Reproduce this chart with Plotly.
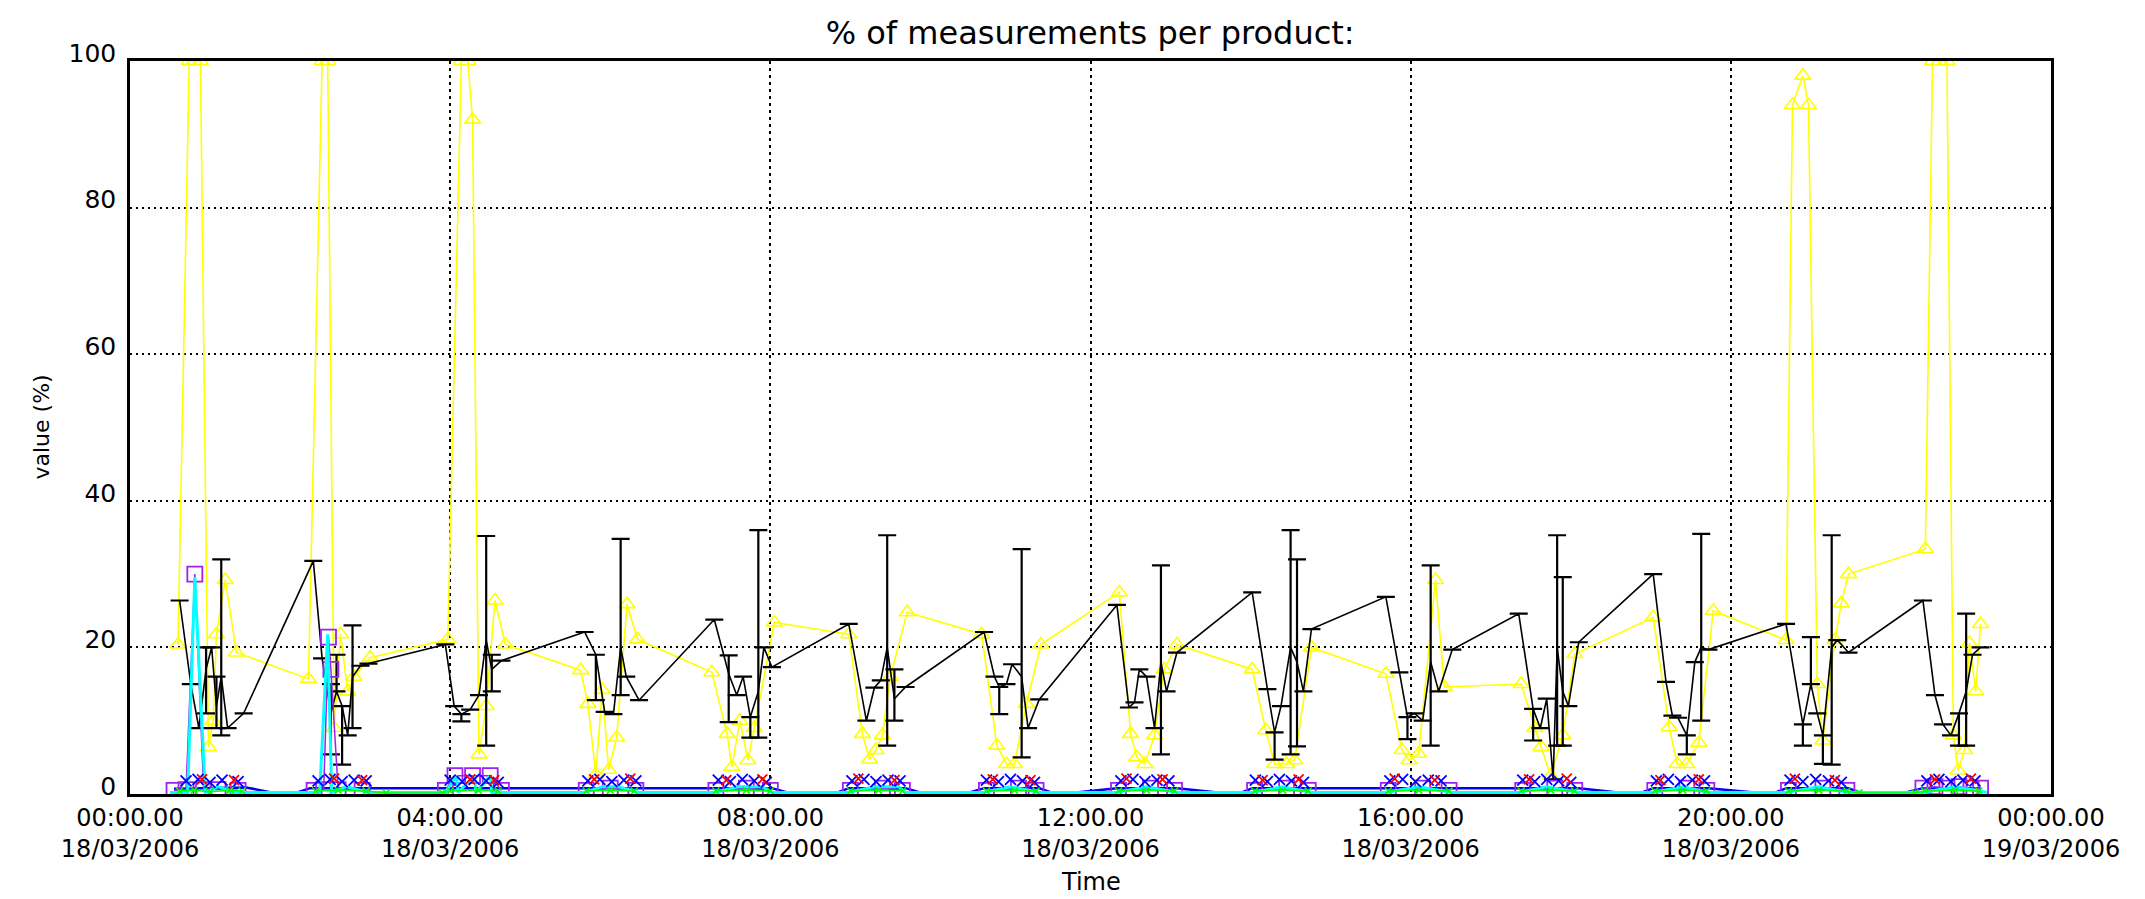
import pandas as pd
import plotly.graph_objects as go

BASE = pd.Timestamp("2006-03-18 00:00:00")

# ---- black series (mean with min/max bars) ----
black_h = [0.62, 0.76, 0.86, 0.95, 1.02, 1.08, 1.14, 1.22, 1.42,
           2.29, 2.40, 2.51, 2.58, 2.65, 2.72, 2.78, 2.88, 2.98,
           3.94, 4.05, 4.14, 4.25, 4.36, 4.45, 4.52, 4.64,
           5.68, 5.82, 5.93, 6.04, 6.13, 6.20, 6.36,
           7.30, 7.48, 7.58, 7.66, 7.75, 7.85, 7.92, 8.02,
           8.98, 9.20, 9.30, 9.38, 9.46, 9.55, 9.69,
           10.67, 10.80, 10.86, 10.95, 11.02, 11.14, 11.22, 11.36,
           12.33, 12.48, 12.55, 12.61, 12.70, 12.80, 12.88, 12.95, 13.08,
           14.02, 14.21, 14.30, 14.38, 14.50, 14.58, 14.66, 14.76,
           15.69, 15.86, 15.96, 16.05, 16.15, 16.25, 16.35, 16.52,
           17.35, 17.53, 17.62, 17.70, 17.78, 17.83, 17.90, 17.97, 18.10,
           19.03, 19.19, 19.27, 19.34, 19.45, 19.55, 19.63, 19.72,
           20.69, 20.90, 21.00, 21.08, 21.15, 21.26, 21.33, 21.47,
           22.40, 22.55, 22.65, 22.75, 22.85, 22.94, 23.02, 23.12]
black_v = [26.4, 15.0, 9.0, 17.0, 20.0, 12.0, 16.0, 9.0, 11.0,
           31.8, 18.5, 11.0, 14.0, 12.0, 8.0, 16.0, 17.5, 17.8,
           20.4, 12.0, 10.9, 11.5, 13.5, 21.0, 17.0, 18.2,
           22.1, 19.0, 11.2, 10.9, 20.0, 16.0, 12.8,
           23.8, 16.4, 13.5, 16.0, 10.5, 14.0, 20.0, 17.3,
           23.2, 10.0, 14.5, 15.5, 20.0, 13.0, 14.6,
           22.1, 16.0, 14.6, 15.0, 17.7, 16.0, 9.0, 12.9,
           25.8, 11.8, 12.5, 17.0, 16.0, 9.0, 18.0, 14.0, 19.3,
           27.5, 14.3, 8.4, 12.0, 20.0, 18.0, 14.0, 22.5,
           26.9, 16.6, 10.5, 11.0, 10.0, 18.0, 14.0, 19.7,
           24.6, 11.6, 9.0, 13.0, 2.0, 20.0, 14.0, 12.0, 20.7,
           30.0, 15.3, 10.7, 10.4, 8.0, 18.0, 20.0, 19.7,
           23.2, 9.5, 15.0, 11.0, 8.0, 20.0, 21.0, 19.3,
           26.4, 13.5, 9.5, 8.0, 11.0, 14.0, 19.0, 20.0]
black_up = [0, 0, 0, 3, 0, 4, 16, 0, 0,
            0, 0, 4, 5, 0, 0, 7, 0, 0,
            0, 0, 0, 0, 0, 14.2, 2, 0,
            0, 0, 0, 0, 14.8, 0, 0,
            0, 2.5, 0, 0, 0, 22, 0, 0,
            0, 0, 0, 0, 15.3, 4, 0,
            0, 0, 0, 0, 0, 17.4, 0, 0,
            0, 0, 0, 0, 0, 0, 13.2, 0, 0,
            0, 0, 0, 0, 16, 14, 0, 0,
            0, 0, 0, 0, 0, 13.2, 0, 0,
            0, 0, 0, 0, 0, 15.3, 15.6, 0, 0,
            0, 0, 0, 0, 0, 0, 15.5, 0,
            0, 0, 6.4, 0, 0, 15.3, 0, 0,
            0, 0, 0, 0, 0, 10.6, 0, 0]
black_down = [0, 0, 0, 6, 0, 3, 8, 0, 0,
              0, 0, 5.6, 0, 8, 0, 7, 0, 0,
              0, 0, 1, 0, 0, 14.4, 3, 0,
              0, 6.2, 0, 0, 6.5, 0, 0,
              0, 6.6, 0, 0, 2.8, 6.3, 0, 0,
              0, 0, 0, 0, 13.4, 3, 0,
              0, 0, 3.7, 0, 0, 11, 0, 0,
              0, 0, 0, 0, 0, 0, 12.6, 0, 0,
              0, 0, 3.7, 0, 14.6, 11.5, 0, 0,
              0, 0, 3, 0, 0, 11.4, 0, 0,
              0, 4.3, 0, 0, 0, 13.4, 7.4, 0, 0,
              0, 0, 0, 0, 2.6, 0, 10, 0,
              0, 2.9, 0, 0, 3.9, 16, 0, 0,
              0, 0, 0, 0, 4.4, 7.4, 0, 0]

# ---- yellow series (triangles) ----
yellow_h = [0.60, 0.74, 0.80, 0.88, 0.98, 1.04, 1.08, 1.19, 1.33,
            2.23, 2.40, 2.47, 2.55, 2.63, 2.72, 2.80, 3.00,
            3.97, 4.14, 4.22, 4.28, 4.36, 4.45, 4.56, 4.69,
            5.63, 5.72, 5.82, 5.90, 5.98, 6.08, 6.21, 6.34,
            7.27, 7.46, 7.52, 7.62, 7.72, 7.80, 8.05,
            8.98, 9.15, 9.24, 9.32, 9.40, 9.50, 9.71,
            10.64, 10.83, 10.95, 11.05, 11.20, 11.38,
            12.36, 12.50, 12.58, 12.68, 12.80, 12.92, 13.08,
            14.02, 14.19, 14.30, 14.45, 14.55, 14.76,
            15.69, 15.89, 15.98, 16.10, 16.31, 16.42,
            17.38, 17.55, 17.63, 17.75, 17.90, 18.05,
            19.03, 19.23, 19.33, 19.45, 19.60, 19.78,
            20.69, 20.77, 20.90, 20.97, 21.08, 21.15, 21.30, 21.38, 21.47,
            22.43, 22.52, 22.60, 22.70, 22.78, 22.84, 22.92, 22.98, 23.06, 23.12]
yellow_v = [20.4, 100, 100, 100, 6.4, 10, 21.8, 29.2, 19.3,
            15.7, 100, 100, 9.0, 21.8, 14.0, 16.0, 18.6,
            21.1, 100, 100, 92, 5.4, 12, 26.4, 20.4,
            16.9, 12.3, 2.7, 14.2, 3.3, 7.7, 25.9, 21.1,
            16.6, 8.2, 3.7, 10, 4.6, 9, 23.4,
            21.8, 8.2, 4.7, 6.0, 8.0, 16.0, 24.8,
            21.8, 6.6, 4.1, 4.1, 12.3, 20.4,
            27.5, 8.2, 5.0, 4.1, 8, 17, 20.4,
            17.0, 8.7, 4.1, 4.1, 4.6, 20.0,
            16.4, 6.0, 4.6, 5.5, 29.2, 14.6,
            15.0, 9.0, 6.4, 2.5, 8, 19.1,
            24.1, 9.1, 4.1, 4.1, 7, 25.0,
            21.0, 94, 98, 94, 15, 7.3, 21, 26, 30,
            33.4, 100, 100, 100, 8, 3.2, 6, 20.6, 14, 23.2]

# ---- blue series (line) ----
blue_h = [0.55, 1.45, 1.75, 2.10, 2.25, 2.98, 3.94, 4.64, 5.68, 6.36, 7.30, 8.02,
          8.20, 8.85, 8.98, 9.69, 9.86, 10.50, 10.67, 11.36, 11.50, 11.85, 12.33,
          13.08, 13.56, 13.90, 14.02, 14.76, 15.69, 16.52, 17.35, 18.10, 18.56,
          18.90, 19.03, 19.72, 20.26, 20.57, 20.69, 21.47, 21.60, 22.20, 22.40, 23.12]
blue_v = [0.7, 0.9, 0.25, 0.25, 0.8, 0.8, 0.8, 0.8, 0.8, 0.8, 0.8, 0.8,
          0.25, 0.25, 0.8, 0.8, 0.25, 0.25, 0.8, 0.8, 0.25, 0.25, 0.8,
          0.8, 0.25, 0.25, 0.8, 0.8, 0.8, 0.8, 0.8, 0.8, 0.25,
          0.25, 0.8, 0.8, 0.25, 0.25, 0.8, 0.8, 0.25, 0.25, 0.8, 0.8]

# ---- blue markers ----
bluex_h = [0.70, 0.85, 1.00, 1.15, 1.35, 2.35, 2.50, 2.65, 2.80, 2.95,
           4.00, 4.15, 4.30, 4.45, 4.60, 5.72, 5.87, 6.02, 6.17, 6.32,
           7.35, 7.50, 7.65, 7.80, 7.95, 9.02, 9.17, 9.32, 9.47, 9.62,
           10.70, 10.85, 11.00, 11.15, 11.30, 12.38, 12.53, 12.68, 12.83, 12.98,
           14.06, 14.21, 14.36, 14.51, 14.66, 15.74, 15.90, 16.06, 16.22, 16.38,
           17.40, 17.55, 17.70, 17.85, 18.00, 19.07, 19.22, 19.37, 19.52, 19.67,
           20.74, 20.90, 21.06, 21.22, 21.38, 22.45, 22.60, 22.75, 22.90, 23.05]
bluex_v = [1.8, 2.0, 1.6, 1.9, 1.7, 1.8, 2.0, 1.7, 1.9, 1.8,
           1.9, 1.7, 2.0, 1.8, 1.6, 1.8, 2.0, 1.7, 1.9, 1.8,
           1.9, 1.7, 2.0, 1.8, 1.6, 1.8, 2.0, 1.7, 1.9, 1.8,
           1.9, 1.7, 2.0, 1.8, 1.6, 1.8, 2.0, 1.7, 1.9, 1.8,
           1.9, 1.7, 2.0, 1.8, 1.6, 1.8, 2.0, 1.7, 1.9, 1.8,
           1.9, 1.7, 2.0, 1.8, 1.6, 1.8, 2.0, 1.7, 1.9, 1.8,
           1.9, 1.7, 2.0, 1.8, 1.6, 1.8, 2.0, 1.7, 1.9, 1.8]

# ---- cyan series ----
cyan_h = [0.50, 0.72, 0.81, 0.94, 1.10, 1.30, 1.45, 2.28, 2.37, 2.47, 2.52, 2.70,
          2.98, 3.94, 4.08, 4.10, 4.30, 4.32, 4.50, 4.52, 4.64, 5.68, 5.90, 6.10,
          6.36, 7.30, 7.60, 7.90, 8.02, 8.98, 9.30, 9.60, 9.69, 10.67, 11.00,
          11.36, 12.33, 12.70, 13.08, 14.02, 14.40, 14.76, 15.69, 16.10, 16.52,
          17.35, 17.70, 18.10, 19.03, 19.40, 19.72, 20.69, 21.10, 21.47, 22.40,
          22.80, 23.20]
cyan_v = [0.2, 0.2, 29.6, 0.2, 1.0, 0.2, 0.2, 0.2, 0.2, 21.8, 0.2, 1.0,
          0.2, 0.2, 2.5, 0.2, 2.5, 0.2, 2.5, 0.2, 0.2, 0.2, 1.0, 1.0,
          0.2, 0.2, 1.0, 1.0, 0.2, 0.2, 1.0, 1.0, 0.2, 0.2, 1.0,
          0.2, 0.2, 1.0, 0.2, 0.2, 1.0, 0.2, 0.2, 1.0, 0.2,
          0.2, 1.0, 0.2, 0.2, 1.0, 0.2, 0.2, 1.0, 0.2, 0.2,
          1.0, 0.2]

# ---- purple series (squares) ----
purple_h = [0.55, 0.70, 0.81, 0.92, 1.10, 1.35, None,
            2.30, 2.42, 2.48, 2.51, 2.60, 2.90, None,
            3.94, 4.06, 4.28, 4.50, 4.64, None,
            5.70, 6.00, 6.32, None, 7.32, 7.70, 8.00, None,
            9.00, 9.40, 9.65, None, 10.70, 11.10, 11.32, None,
            12.35, 12.75, 13.05, None, 14.05, 14.45, 14.72, None,
            15.72, 16.15, 16.48, None, 17.40, 17.80, 18.05, None,
            19.05, 19.45, 19.70, None, 20.72, 21.15, 21.45, None,
            22.40, 22.55, 22.70, 22.85, 23.00, 23.12]
purple_v = [0.5, 0.6, 30.0, 0.6, 0.6, 0.5, None,
            0.5, 0.6, 21.4, 17.0, 0.6, 0.5, None,
            0.5, 2.5, 2.5, 2.5, 0.5, None,
            0.5, 0.8, 0.5, None, 0.5, 0.8, 0.5, None,
            0.5, 0.8, 0.5, None, 0.5, 0.8, 0.5, None,
            0.5, 0.8, 0.5, None, 0.5, 0.8, 0.5, None,
            0.5, 0.8, 0.5, None, 0.5, 0.8, 0.5, None,
            0.5, 0.8, 0.5, None, 0.5, 0.8, 0.5, None,
            0.8, 1.0, 0.8, 1.0, 0.8, 0.8]

# ---- red markers ----
red_h = [0.90, 1.30, 2.55, 2.90, 4.25, 4.55, 5.80, 6.25, 7.45, 7.90, 9.10, 9.55,
         10.78, 11.25, 12.45, 12.90, 14.15, 14.60, 15.80, 16.30, 17.48, 17.95,
         19.12, 19.60, 20.80, 21.30, 22.55, 23.00]
red_v = [2.0, 1.9, 2.1, 1.9, 2.0, 1.9, 2.0, 2.1, 1.9, 2.0, 2.1, 1.9,
         2.0, 1.9, 2.1, 2.0, 1.9, 2.0, 2.1, 1.9, 2.0, 2.1,
         1.9, 2.0, 2.1, 1.9, 2.0, 2.1]

# ---- green series ----
green_h = [0.62, 0.80, 1.00, 1.25, 1.40, None, 2.32, 2.60, 2.95, 3.20, 3.90, 4.00,
           4.35, 4.60, None, 5.70, 6.00, 6.30, None, 7.32, 7.70, 8.00, None,
           9.00, 9.35, 9.65, None, 10.70, 11.05, 11.32, None, 12.35, 12.70, 13.05,
           None, 14.05, 14.40, 14.72, None, 15.72, 16.10, 16.48, None, 17.38,
           17.75, 18.05, None, 19.05, 19.40, 19.70, None, 20.72, 21.10, 21.45,
           21.60, 22.30, 22.42, 22.80, 23.10]
green_v = [0.4, 0.5, 0.3, 0.5, 0.4, None, 0.4, 0.5, 0.4, 0.15, 0.15, 0.4,
           0.5, 0.4, None, 0.4, 0.5, 0.4, None, 0.4, 0.5, 0.4, None,
           0.4, 0.5, 0.4, None, 0.4, 0.5, 0.4, None, 0.4, 0.5, 0.4,
           None, 0.4, 0.5, 0.4, None, 0.4, 0.5, 0.4, None, 0.4,
           0.5, 0.4, None, 0.4, 0.5, 0.4, None, 0.4, 0.5, 0.4,
           0.15, 0.15, 0.4, 0.5, 0.4]


def to_time(hours):
    return [None if h is None else BASE + pd.Timedelta(hours=h) for h in hours]


FONT = "DejaVu Sans"
fig = go.Figure()

fig.add_trace(go.Scatter(
    x=to_time(yellow_h), y=yellow_v, mode="lines+markers",
    line=dict(color="#ffff00", width=1.6),
    marker=dict(symbol="triangle-up-open", size=14, color="#ffff00",
                line=dict(width=1.6, color="#ffff00"))))

fig.add_trace(go.Scatter(
    x=to_time(black_h), y=black_v, mode="lines",
    line=dict(color="black", width=1.6),
    error_y=dict(type="data", symmetric=False, array=black_up,
                 arrayminus=black_down, color="black", thickness=2.2, width=9)))

fig.add_trace(go.Scatter(
    x=to_time(blue_h), y=blue_v, mode="lines",
    line=dict(color="#0000ff", width=2.5)))

fig.add_trace(go.Scatter(
    x=to_time(purple_h), y=purple_v, mode="lines+markers",
    line=dict(color="#a020f0", width=1.5),
    marker=dict(symbol="square-open", size=15, color="#a020f0",
                line=dict(width=1.8, color="#a020f0"))))

fig.add_trace(go.Scatter(
    x=to_time(cyan_h), y=cyan_v, mode="lines",
    line=dict(color="#00ffff", width=3), cliponaxis=False))

fig.add_trace(go.Scatter(
    x=to_time(bluex_h), y=bluex_v, mode="markers",
    marker=dict(symbol="x-thin-open", size=11, color="#0000ff",
                line=dict(width=1.8, color="#0000ff"))))

fig.add_trace(go.Scatter(
    x=to_time(red_h), y=red_v, mode="markers",
    marker=dict(symbol="x-thin-open", size=10, color="#ff0000",
                line=dict(width=1.8, color="#ff0000"))))

fig.add_trace(go.Scatter(
    x=to_time(green_h), y=green_v, mode="lines+markers",
    line=dict(color="#00ff00", width=1.5),
    marker=dict(symbol="x-thin-open", size=7, color="#00ff00",
                line=dict(width=1.5, color="#00ff00"))))

fig.update_layout(
    width=2145, height=899,
    margin=dict(l=122, r=102, t=53, b=113),
    paper_bgcolor="white", plot_bgcolor="white",
    showlegend=False,
    font=dict(family=FONT, size=24, color="black"),
    title=dict(text="% of measurements per product:", x=0.5045, xanchor="center",
               y=1 - 25 / 899, yanchor="middle", yref="container",
               font=dict(family=FONT, size=32, color="black")),
    xaxis=dict(
        type="date",
        range=[BASE, BASE + pd.Timedelta(hours=24)],
        tick0=BASE, dtick=4 * 3600 * 1000,
        tickformat="%H:%M.%S<br>%d/%m/%Y",
        showgrid=True, gridcolor="black", gridwidth=2, griddash="3px,4px",
        showline=True, linecolor="black", linewidth=2.5, mirror=True,
        ticks="", ticklabelstandoff=0, zeroline=False,
        tickfont=dict(family=FONT, size=24, color="black"),
    ),
    yaxis=dict(
        range=[0, 100], tick0=0, dtick=20,
        showgrid=True, gridcolor="black", gridwidth=2, griddash="2px,4px",
        showline=True, linecolor="black", linewidth=2.5, mirror=True,
        ticks="", ticklabelstandoff=6, ticklabelshift=-8, zeroline=False,
        tickfont=dict(family=FONT, size=25, color="black"),
    ),
    annotations=[
        dict(text="Time", xref="paper", yref="paper", x=0.5, y=-(874 - 786) / 733,
             xanchor="center", yanchor="middle", showarrow=False,
             font=dict(family=FONT, size=24, color="black")),
        dict(text="value (%)", xref="paper", yref="paper", x=-(122 - 33) / 1921,
             y=0.5, xanchor="center", yanchor="middle", textangle=-90,
             showarrow=False, font=dict(family=FONT, size=22, color="black")),
    ],
)

fig.write_html("out.html")
